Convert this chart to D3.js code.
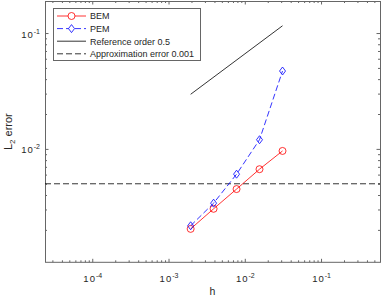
<!DOCTYPE html>
<html>
<head>
<meta charset="utf-8">
<script src="https://cdn.jsdelivr.net/npm/d3@7"></script>
<style>
    body { margin: 0; background: #fff; }
    text { font-family: "Liberation Sans", Arial, sans-serif; fill: #262626; }
</style>
</head>
<body>
<svg id="svg"></svg>
<script>
// mesh sizes and errors
const h = [0.00195, 0.0039, 0.0078, 0.0156, 0.03125];
const bemError = [0.00204, 0.00304, 0.0045, 0.00668, 0.0096];
const pemError = [0.00217, 0.0034, 0.00605, 0.012, 0.047];
const refH = [0.00195, 0.03125];
const refError = [0.0296, 0.1155];
const approxError = 0.005;

const xDomain = [2.4e-5, 0.593];
const yDomain = [1.05e-3, 0.189];
const xMajor = [1e-4, 1e-3, 1e-2, 1e-1];
const yMajor = [1e-2, 1e-1];

const legendItems = [
    { label: "BEM", color: "#ff0000", dash: null, marker: "circle" },
    { label: "PEM", color: "#0000ff", dash: "6,3", marker: "diamond" },
    { label: "Reference order 0.5", color: "#000", dash: null, marker: null },
    { label: "Approximation error 0.001", color: "#000", dash: "6,3", marker: null }
];

const width = 381;
const height = 298;
const margin = { top: 1, right: 1, bottom: 35.7, left: 45 };
const chartWidth = width - margin.left - margin.right;
const chartHeight = height - margin.top - margin.bottom;

let svg = d3.select("#svg").attr("width", width).attr("height", height);
let chart = svg.append("g").attr("transform", `translate(${margin.left},${margin.top})`);

let xScale = d3.scaleLog().domain(xDomain).range([0, chartWidth]);
let yScale = d3.scaleLog().domain(yDomain).range([chartHeight, 0]);

// minor ticks 2..9 per decade inside the domain
function minorTicks(domain) {
    let out = [];
    for (let e = -6; e <= 1; e++) {
        for (let m = 2; m <= 9; m++) {
            let v = m * Math.pow(10, e);
            if (v >= domain[0] && v <= domain[1]) out.push(v);
        }
    }
    return out;
}

function supLabel(sel, exp) {
    sel.text("");
    sel.append("tspan").style("font-size", "9.5px").style("letter-spacing", "1px").text("10");
    sel.append("tspan").style("font-size", "7px").attr("dy", -4).text(exp);
}

function styleAxis(g) {
    g.select(".domain").remove();
    g.selectAll(".tick line").attr("stroke", "#666");
}

// ticks on all four sides, pointing inward
chart.append("g").attr("transform", `translate(0,${chartHeight})`)
    .call(d3.axisBottom(xScale).tickValues(minorTicks(xDomain)).tickSize(-2).tickFormat(""))
    .call(styleAxis);
chart.append("g").call(d3.axisTop(xScale).tickValues(minorTicks(xDomain)).tickSize(-2).tickFormat(""))
    .call(styleAxis);
chart.append("g").call(d3.axisLeft(yScale).tickValues(minorTicks(yDomain)).tickSize(-2).tickFormat(""))
    .call(styleAxis);
chart.append("g").attr("transform", `translate(${chartWidth},0)`)
    .call(d3.axisRight(yScale).tickValues(minorTicks(yDomain)).tickSize(-2).tickFormat(""))
    .call(styleAxis);

let xAxis = chart.append("g").attr("transform", `translate(0,${chartHeight})`)
    .call(d3.axisBottom(xScale).tickValues(xMajor).tickSize(-3.5).tickFormat(""))
    .call(styleAxis);
xAxis.selectAll(".tick text").remove();
xAxis.selectAll(".tick").append("text")
    .attr("y", 19.3)
    .attr("text-anchor", "middle")
    .each(function (d) { supLabel(d3.select(this), String(Math.round(Math.log10(d)))); });

chart.append("g").call(d3.axisTop(xScale).tickValues(xMajor).tickSize(-3.5).tickFormat(""))
    .call(styleAxis);

let yAxis = chart.append("g")
    .call(d3.axisLeft(yScale).tickValues(yMajor).tickSize(-3.5).tickFormat(""))
    .call(styleAxis);
yAxis.selectAll(".tick text").remove();
yAxis.selectAll(".tick").append("text")
    .attr("x", -5)
    .attr("y", 4)
    .attr("text-anchor", "end")
    .each(function (d) { supLabel(d3.select(this), String(Math.round(Math.log10(d)))); });

chart.append("g").attr("transform", `translate(${chartWidth},0)`)
    .call(d3.axisRight(yScale).tickValues(yMajor).tickSize(-3.5).tickFormat(""))
    .call(styleAxis);

// box
chart.append("rect")
    .attr("x", 0.5).attr("y", 0.5)
    .attr("width", chartWidth).attr("height", chartHeight - 0.5)
    .attr("fill", "none").attr("stroke", "#666").attr("stroke-width", 1);

// axis labels
svg.append("text")
    .attr("x", margin.left + chartWidth / 2)
    .attr("y", 295)
    .attr("text-anchor", "middle")
    .style("font-size", "10.5px")
    .text("h");

let yLabel = svg.append("text")
    .attr("transform", `translate(12,${margin.top + chartHeight / 2}) rotate(-90)`)
    .attr("text-anchor", "middle")
    .style("font-size", "11px");
yLabel.append("tspan").text("L");
yLabel.append("tspan").style("font-size", "8px").attr("dy", 3).text("2");
yLabel.append("tspan").attr("dy", -3).text(" error");

// approximation level
chart.append("line")
    .attr("x1", 0).attr("x2", chartWidth)
    .attr("y1", yScale(approxError)).attr("y2", yScale(approxError))
    .attr("stroke", "#000").attr("stroke-width", 0.8)
    .attr("stroke-dasharray", "6,3");

// reference slope
let line = d3.line().x(d => xScale(d[0])).y(d => yScale(d[1]));
chart.append("path")
    .attr("d", line(refH.map((v, i) => [v, refError[i]])))
    .attr("fill", "none").attr("stroke", "#000").attr("stroke-width", 0.8);

function diamondPath(cx, cy) {
    return `M${cx},${cy - 4}L${cx + 3},${cy}L${cx},${cy + 4}L${cx - 3},${cy}Z`;
}

function drawSeries(values, item) {
    let pts = h.map((v, i) => [v, values[i]]);
    chart.append("path")
        .attr("d", line(pts))
        .attr("fill", "none")
        .attr("stroke", item.color).attr("stroke-width", 0.8)
        .attr("stroke-dasharray", item.dash);
    if (item.marker === "circle") {
        chart.selectAll(null).data(pts).enter().append("circle")
            .attr("cx", d => xScale(d[0])).attr("cy", d => yScale(d[1]))
            .attr("r", 3.5)
            .attr("fill", "none").attr("stroke", item.color).attr("stroke-width", 0.8);
    } else {
        chart.selectAll(null).data(pts).enter().append("path")
            .attr("d", d => diamondPath(xScale(d[0]), yScale(d[1])))
            .attr("fill", "none").attr("stroke", item.color).attr("stroke-width", 0.8);
    }
}

drawSeries(bemError, legendItems[0]);
drawSeries(pemError, legendItems[1]);

// legend
let legend = svg.append("g");
legend.append("rect")
    .attr("x", 53.5).attr("y", 8.5)
    .attr("width", 147).attr("height", 52)
    .attr("fill", "#fff").attr("stroke", "#666").attr("stroke-width", 1);

legendItems.forEach((item, i) => {
    let y = 16 + i * 12.6;
    legend.append("line")
        .attr("x1", 57).attr("x2", 86)
        .attr("y1", y).attr("y2", y)
        .attr("stroke", item.color).attr("stroke-width", 0.8)
        .attr("stroke-dasharray", item.dash);
    if (item.marker === "circle") {
        legend.append("circle").attr("cx", 71.5).attr("cy", y).attr("r", 3.5)
            .attr("fill", "#fff").attr("stroke", item.color).attr("stroke-width", 0.8);
    } else if (item.marker === "diamond") {
        legend.append("path").attr("d", diamondPath(71.5, y))
            .attr("fill", "#fff").attr("stroke", item.color).attr("stroke-width", 0.8);
    }
    legend.append("text")
        .attr("x", 90).attr("y", y + 3.3)
        .style("font-size", "9px")
        .text(item.label);
});
</script>
</body>
</html>
